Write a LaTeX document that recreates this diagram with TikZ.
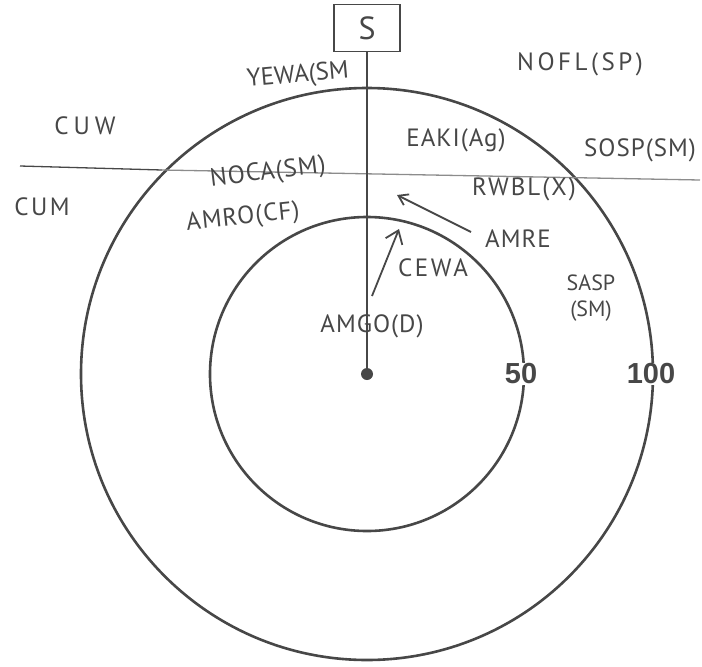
\documentclass[tikz,border=0pt]{standalone}
\usepackage{fontspec}
\setmainfont{PT Sans}
\newfontfamily\numfont{Liberation Sans}
\usepackage{xcolor}
\usetikzlibrary{calc,positioning,arrows.meta}

\colorlet{ink}{black!72}
\tikzset{
  hand/.style={font=\fontsize{25}{28}\selectfont, text=ink, inner sep=0pt},
  spaced/.style={font=\fontsize{25}{28}\selectfont\addfontfeatures{LetterSpace=#1}},
  ring/.style={line width=2.6pt, draw=ink},
  radlabel/.style={font=\numfont\bfseries\fontsize{29}{31}\selectfont, text=ink, fill=white, inner sep=1pt},
}

\begin{document}
\begin{tikzpicture}[x=1pt,y=-1pt]
		\useasboundingbox (0,0) rectangle (702,667);
		
		% Rings
		\coordinate (centre) at (367,374);
		\draw[ring] (centre) circle (286);
		\draw[ring] (centre) circle (157);
		
		% Dividing line
		\coordinate (westend) at (20,166);
		\coordinate (crossing) at (162,170);
		\coordinate (eastend) at (700,180);
		\draw[ink, line width=1.3pt] (westend) -- (crossing);
		\draw[black!45, line width=1.3pt] (crossing) -- (eastend);
		
		% Station
		\node[draw=ink, line width=1.8pt, minimum width=66pt, minimum height=47pt,
		      font=\fontsize{32}{34}\selectfont, text=ink] (station) at (367,28) {S};
		\draw[ink, line width=2pt] (station.south) -- (centre);
		\fill[ink] (centre) circle (6);
		
		% Distance labels
		\node[radlabel] (fifty) at (521,374) {50};
		\node[radlabel] (hundred) at (651,374) {100};
		
		% Zones
		\node[hand, spaced=20] (cuw) at (85,126) {CUW};
		\node[hand, spaced=10] (cum) at (42,207) {CUM};
		
		% Species
		\node[hand, rotate=5] (yewa) at (298,76) {YEWA(SM};
		\node[hand, spaced=14] (nofl) at (580,64) {NOFL(SP)};
		\node[hand, spaced=4] (eaki) at (456,140) {EAKI(Ag)};
		\node[hand, spaced=4] (sosp) at (640,150) {SOSP(SM)};
		\node[hand, rotate=7, spaced=4] (noca) at (268,173) {NOCA(SM)};
		\node[hand, rotate=6, spaced=4] (amro) at (243,218) {AMRO(CF)};
		\node[hand, spaced=8] (rwbl) at (524,189) {RWBL(X)};
		\node[hand, spaced=4] (amre) at (518,239) {AMRE};
		\node[hand, spaced=10] (cewa) at (433,268) {CEWA};
		\node[hand, spaced=4] (amgo) at (372,326) {AMGO(D)};
		\node[hand, align=center, font=\fontsize{22}{26}\selectfont] (sasp) at (591,298) {SASP\\(SM)};
		
		% Movements
		\coordinate (amretail) at (471,232);
		\coordinate (amrehead) at (397,195);
		\draw[ink, line width=1.8pt, -{Straight Barb[length=9pt,width=12pt]}] (amretail) -- (amrehead);
		\coordinate (cewatail) at (372,296);
		\coordinate (cewahead) at (399,229);
		\draw[ink, line width=1.8pt, -{Straight Barb[length=12pt,width=18pt]}] (cewatail) -- (cewahead);
	\end{tikzpicture}
\end{document}
